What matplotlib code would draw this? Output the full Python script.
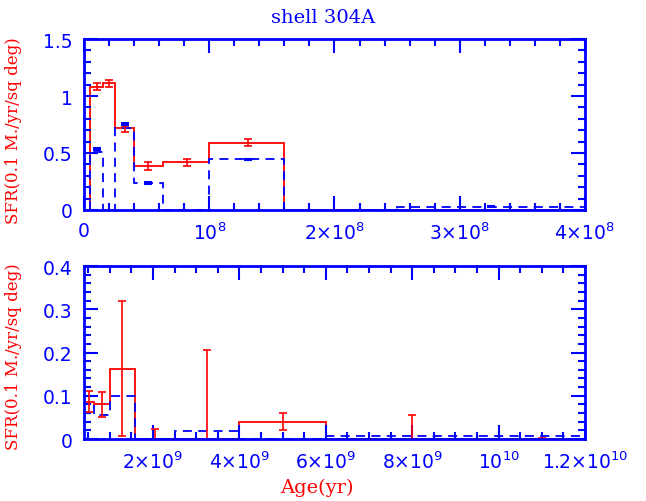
import numpy as np
import matplotlib.pyplot as plt
from matplotlib.ticker import MultipleLocator

plt.rcParams['mathtext.fontset'] = 'dejavusans'

# ---- top panel: young ages (yr) ----
edges_young = [5e6, 1.5e7, 2.5e7, 4e7, 6.3e7, 1e8, 1.6e8, 2.5e8, 4e8]
red_young = [1.08, 1.11, 0.72, 0.39, 0.42, 0.59, 0.0, 0.0]
blue_young = [0.51, 0.0, 0.72, 0.24, 0.0, 0.445, 0.0, 0.03]
# error bar points
red_age_young = [1.0e7, 2.0e7, 3.3e7, 5.1e7, 8.2e7, 1.31e8, 2.05e8, 3.25e8]
red_pt_young = [1.08, 1.11, 0.71, 0.39, 0.42, 0.59, 0.0, 0.0]
red_err_young = [0.03, 0.03, 0.025, 0.035, 0.03, 0.03, 0.004, 0.004]
blue_age_young = [1.0e7, 3.3e7, 5.1e7, 1.31e8, 3.25e8]
blue_pt_young = [0.535, 0.755, 0.237, 0.445, 0.03]
blue_err_young = [0.006, 0.006, 0.005, 0.005, 0.004]

# ---- bottom panel: old ages (yr) ----
edges_old = [4e8, 6.3e8, 1e9, 1.58e9, 2.5e9, 4e9, 6e9, 1e10, 1.2e10]
red_old = [0.086, 0.081, 0.163, 0.0, 0.0, 0.04, 0.0, 0.0]
blue_old = [0.08, 0.055, 0.099, 0.0, 0.019, 0.0, 0.006, 0.006]
red_age_old = [5.1e8, 8.1e8, 1.29e9, 2.05e9, 3.25e9, 5.0e9, 8.0e9, 1.1e10]
red_pt_old = [0.086, 0.08, 0.163, 0.0, 0.0, 0.04, 0.0, 0.0]
red_err_old = [0.024, 0.028, 0.155, 0.023, 0.206, 0.019, 0.055, 0.003]

young_ticks = [0, 1e8, 2e8, 3e8, 4e8]
young_labels = ['0', '10$^{8}$', '2×10$^{8}$', '3×10$^{8}$', '4×10$^{8}$']
old_ticks = [2e9, 4e9, 6e9, 8e9, 1e10, 1.2e10]
old_labels = ['2×10$^{9}$', '4×10$^{9}$', '6×10$^{9}$', '8×10$^{9}$',
              '10$^{10}$', '1.2×10$^{10}$']

BLUE = '#0000ff'
RED = '#ff0000'

fig = plt.figure(figsize=(6.46, 5.02), dpi=100)
ax1 = fig.add_axes([0.130, 0.5797, 0.7755, 0.3406])
ax2 = fig.add_axes([0.130, 0.1235, 0.7755, 0.3446])


def style(ax, xmin, xmax, ymax, xminor, yminor, ylab_y):
    ax.set_xlim(xmin, xmax)
    ax.set_ylim(0, ymax)
    for s in ax.spines.values():
        s.set_color(BLUE)
        s.set_linewidth(2)
    ax.xaxis.set_minor_locator(MultipleLocator(xminor))
    ax.yaxis.set_minor_locator(MultipleLocator(yminor))
    ax.tick_params(which='both', direction='in', top=True, right=True,
                   color=BLUE, width=1.5, labelcolor=BLUE)
    ax.tick_params(which='major', length=10)
    ax.tick_params(which='minor', length=5)
    ax.tick_params(axis='x', pad=8, labelsize=13.5)
    ax.tick_params(axis='y', pad=8, labelsize=13.5)
    ax.set_ylabel('SFR(0.1 M./yr/sq deg)', color=RED, family='DejaVu Serif',
                  fontsize=12)
    ax.yaxis.set_label_coords(-0.124, ylab_y)


# top
ax1.stairs(red_young, edges_young, baseline=0, color=RED, lw=1.3)
ax1.stairs(blue_young, edges_young, baseline=0, color=BLUE, lw=1.3,
           linestyle=(0, (5, 3.5)))
ax1.errorbar(red_age_young, red_pt_young, yerr=red_err_young, fmt='none',
             ecolor=RED, capsize=3, elinewidth=1.2, capthick=1.2)
ax1.errorbar(blue_age_young, blue_pt_young, yerr=blue_err_young, fmt='none',
             ecolor=BLUE, capsize=3, elinewidth=1.5, capthick=1.5)
ax1.set_xticks(young_ticks, young_labels)
ax1.set_yticks([0, 0.5, 1, 1.5], ['0', '0.5', '1', '1.5'])
style(ax1, 0, 4e8, 1.5, 2e7, 0.1, 0.47)

# bottom
ax2.stairs(red_old, edges_old, baseline=0, color=RED, lw=1.3)
ax2.stairs(blue_old, edges_old, baseline=0, color=BLUE, lw=1.3,
           linestyle=(0, (5, 3.5)))
ax2.errorbar(red_age_old, red_pt_old, yerr=red_err_old, fmt='none',
             ecolor=RED, capsize=3, elinewidth=1.2, capthick=1.2)
ax2.set_xticks(old_ticks, old_labels)
ax2.set_yticks([0, 0.1, 0.2, 0.3, 0.4], ['0', '0.1', '0.2', '0.3', '0.4'])
style(ax2, 4e8, 1.2e10, 0.4, 5e8, 0.02, 0.48)

fig.text(0.50, 0.954, 'shell 304A', color=BLUE, family='DejaVu Serif',
         fontsize=14, ha='center', va='baseline')
fig.text(0.49, 0.018, 'Age(yr)', color=RED, family='DejaVu Serif',
         fontsize=14, ha='center', va='baseline')

fig.savefig('out.png', dpi=100)
